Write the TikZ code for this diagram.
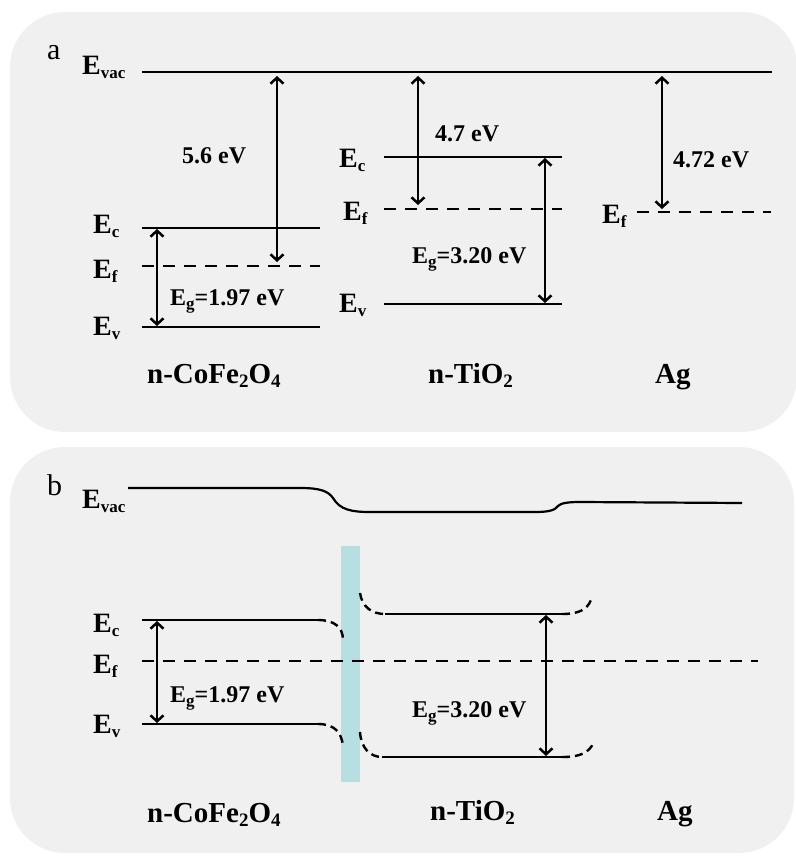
\documentclass[tikz,border=0pt]{standalone}
\usepackage{fontspec}
\setmainfont{Liberation Serif}
\usetikzlibrary{arrows.meta}

\definecolor{panelgray}{RGB}{240,240,240}
\definecolor{junction}{RGB}{182,223,226}

% level names with lowered index
\newcommand{\Elev}[1]{E\raisebox{-4pt}{\fontsize{17}{17}\selectfont #1}}
\newcommand{\Egap}{E\raisebox{-4pt}{\fontsize{17}{17}\selectfont g}}
\newcommand{\chem}[1]{\raisebox{-4pt}{\fontsize{19}{19}\selectfont #1}}

\tikzset{
  panel/.style={fill=panelgray, rounded corners=55pt},
  level/.style={line width=2.8pt},
  fermi/.style={line width=2.8pt, dash pattern=on 12pt off 9pt},
  bandbend/.style={line width=2.4pt, dash pattern=on 8pt off 5pt},
  gap/.style={<->, line width=2.5pt},
  lab/.style={font=\fontsize{28}{30}\selectfont\bfseries, anchor=base west, inner sep=0pt},
  val/.style={font=\fontsize{24}{26}\selectfont\bfseries, anchor=base west, inner sep=0pt},
  mat/.style={font=\fontsize{29}{31}\selectfont\bfseries, anchor=base west, inner sep=0pt},
  tag/.style={font=\fontsize{30}{30}\selectfont, anchor=base west, inner sep=0pt}
}

\begin{document}
\begin{tikzpicture}[x=1pt, y=-1pt, >={Straight Barb[length=6pt,width=13pt]}]
    \useasboundingbox (0,0) rectangle (795,856);

    % Background panels
    \fill[panel] (10,12) rectangle (797,432);
    \fill[panel] (10,447) rectangle (794,853);

    % ---------- Panel a ----------
    % Coordinates of the levels
    \coordinate (vacL) at (142,72);
    \coordinate (vacR) at (772,72);
    \coordinate (coC) at (142,228);
    \coordinate (coF) at (142,266);
    \coordinate (coV) at (142,327);
    \coordinate (tiC) at (384,157);
    \coordinate (tiF) at (384,209);
    \coordinate (tiV) at (384,304);
    \coordinate (agF) at (637,212);

    % Draw the levels
    \draw[level] (vacL) -- (vacR);
    \draw[level] (coC) -- ++(178,0);
    \draw[fermi] (coF) -- ++(178,0);
    \draw[level] (coV) -- ++(178,0);
    \draw[level] (tiC) -- ++(178,0);
    \draw[fermi] (tiF) -- ++(178,0);
    \draw[level] (tiV) -- ++(178,0);
    \draw[fermi] (agF) -- ++(134,0);

    % Arrow end points
    \coordinate (wCoTop) at (277,72);
    \coordinate (wCoBot) at (277,266);
    \coordinate (gCoTop) at (157,228);
    \coordinate (gCoBot) at (157,327);
    \coordinate (wTiTop) at (418,72);
    \coordinate (wTiBot) at (418,209);
    \coordinate (gTiTop) at (545,157);
    \coordinate (gTiBot) at (545,304);
    \coordinate (wAgTop) at (662,72);
    \coordinate (wAgBot) at (662,212);

    % Draw the energy arrows
    \draw[gap, shorten <=4pt, shorten >=4pt] (wCoTop) -- (wCoBot);
    \draw[gap, shorten <=1pt, shorten >=1pt] (gCoTop) -- (gCoBot);
    \draw[gap, shorten <=4pt, shorten >=4pt] (wTiTop) -- (wTiBot);
    \draw[gap, shorten <=1pt, shorten >=1pt] (gTiTop) -- (gTiBot);
    \draw[gap, shorten <=4pt, shorten >=3pt] (wAgTop) -- (wAgBot);

    % Level labels
    \node[tag] (tagA) at (47,60) {a};
    \node[lab] (aVac) at (82,75) {\Elev{vac}};
    \node[lab] (aCoC) at (93,233) {\Elev{c}};
    \node[lab] (aCoF) at (93,278) {\Elev{f}};
    \node[lab] (aCoV) at (93,335) {\Elev{v}};
    \node[lab] (aTiC) at (339,167) {\Elev{c}};
    \node[lab] (aTiF) at (343,220) {\Elev{f}};
    \node[lab] (aTiV) at (339,312) {\Elev{v}};
    \node[lab] (aAgF) at (602,223) {\Elev{f}};

    % Value labels
    \node[val] (aWCo) at (182,163) {5.6 eV};
    \node[val] (aWTi) at (435,142) {4.7 eV};
    \node[val] (aWAg) at (673,167) {4.72 eV};
    \node[val] (aGCo) at (170,305) {\Egap=1.97 eV};
    \node[val] (aGTi) at (412,263) {\Egap=3.20 eV};

    % Material labels
    \node[mat] (aCo) at (147,383) {n-CoFe\chem{2}O\chem{4}};
    \node[mat] (aTi) at (428,383) {n-TiO\chem{2}};
    \node[mat] (aAg) at (655,383) {Ag};

    % ---------- Panel b ----------
    % Interface layer
    \fill[junction] (341,546) rectangle (360,782);

    % Vacuum level after contact
    \draw[line width=2.2pt] (128,488) -- (300,488)
        .. controls (320,488) and (328,491) .. (333,498)
        .. controls (340,510) and (352,512) .. (370,512) -- (535,512)
        .. controls (550,512) and (555,510) .. (558,506)
        .. controls (561,503) and (568,502) .. (580,502) -- (742,503);

    % Coordinates of the bent bands
    \coordinate (bCoC) at (142,620);
    \coordinate (bCoCe) at (318,620);
    \coordinate (bCoV) at (142,724);
    \coordinate (bCoVe) at (318,724);
    \coordinate (bF) at (142,661);
    \coordinate (bFe) at (758,661);
    \coordinate (bTiC) at (385,614);
    \coordinate (bTiCe) at (562,614);
    \coordinate (bTiV) at (382,757);
    \coordinate (bTiVe) at (562,757);

    % Draw the bands
    \draw[level] (bCoC) -- (bCoCe);
    \draw[bandbend] (bCoCe) .. controls (334,620) and (343,627) .. (343,640);
    \draw[level] (bCoV) -- (bCoVe);
    \draw[bandbend] (bCoVe) .. controls (334,724) and (342,732) .. (343,747);
    \draw[fermi] (bF) -- (bFe);
    \draw[bandbend] (360,593) .. controls (362,607) and (372,614) .. (bTiC);
    \draw[level] (bTiC) -- (bTiCe);
    \draw[bandbend] (bTiCe) .. controls (578,614) and (587,610) .. (591,600);
    \draw[bandbend] (360,732) .. controls (361,748) and (370,757) .. (bTiV);
    \draw[level] (bTiV) -- (bTiVe);
    \draw[bandbend] (bTiVe) .. controls (580,757) and (589,753) .. (594,742);

    % Band gap arrows
    \coordinate (bgCoTop) at (157,620);
    \coordinate (bgCoBot) at (157,724);
    \coordinate (bgTiTop) at (546,614);
    \coordinate (bgTiBot) at (546,757);
    \draw[gap, shorten <=1pt, shorten >=1pt] (bgCoTop) -- (bgCoBot);
    \draw[gap, shorten <=1pt, shorten >=1pt] (bgTiTop) -- (bgTiBot);

    % Level labels
    \node[tag] (tagB) at (47,495) {b};
    \node[lab] (bVacL) at (82,508) {\Elev{vac}};
    \node[lab] (bCoCL) at (93,632) {\Elev{c}};
    \node[lab] (bFL) at (93,673) {\Elev{f}};
    \node[lab] (bCoVL) at (93,733) {\Elev{v}};

    % Value labels
    \node[val] (bGCo) at (170,702) {\Egap=1.97 eV};
    \node[val] (bGTi) at (412,717) {\Egap=3.20 eV};

    % Material labels
    \node[mat] (bCo) at (147,822) {n-CoFe\chem{2}O\chem{4}};
    \node[mat] (bTi) at (430,820) {n-TiO\chem{2}};
    \node[mat] (bAg) at (657,820) {Ag};
\end{tikzpicture}
\end{document}
